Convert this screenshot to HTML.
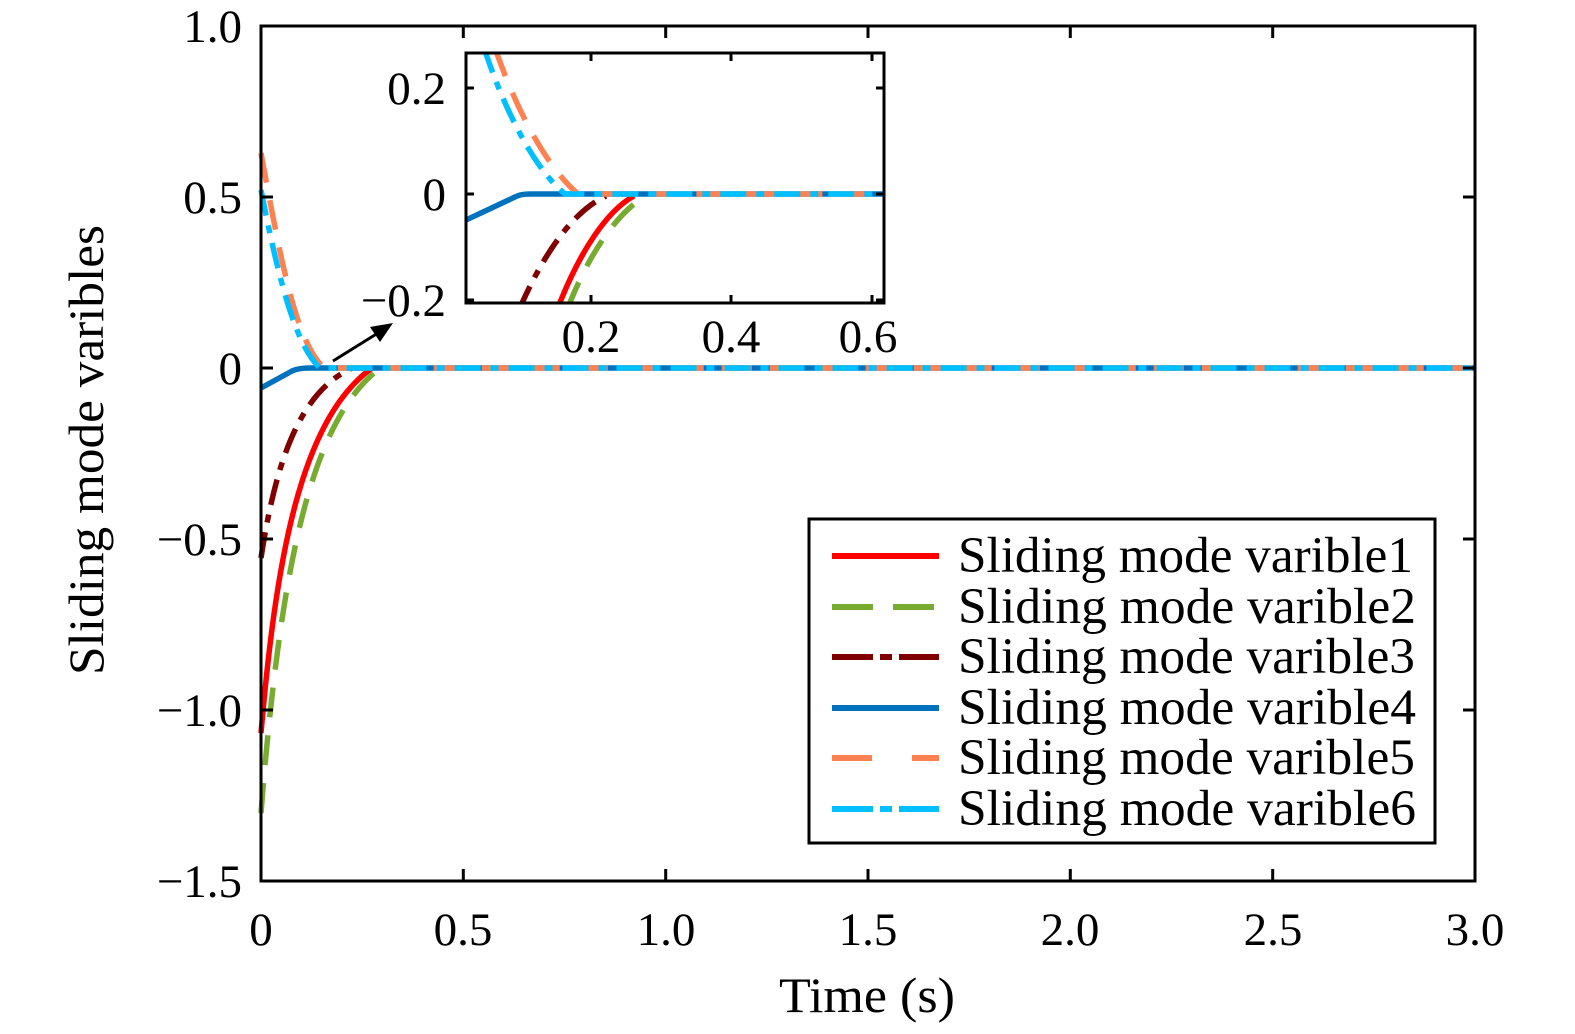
<!DOCTYPE html>
<html><head><meta charset="utf-8"><style>
html,body{margin:0;padding:0;background:#fff;}
svg{display:block;}
text{font-family:"Liberation Serif","Times New Roman",Times,serif;fill:#000;}
</style></head><body>
<svg width="1575" height="1034" viewBox="0 0 1575 1034" xmlns="http://www.w3.org/2000/svg">
<g fill="none" stroke-width="5.5">
<path d="M261,733 C 276,560 300,420 372,368" stroke="#ff0000"/>
<path d="M261,813 C 281,560 312,420 380,368" stroke="#77ac30" stroke-dasharray="30,18"/>
<path d="M261,558 C 276,460 300,392 352,368" stroke="#800000" stroke-dasharray="26,10,8,10"/>
<path d="M261,388 L292,371 Q298,368 310,368 L1475,368" stroke="#0072bd"/>
<path d="M261,153 C 281,262 296,342 324,368 L1475,368" stroke="#ff8050" stroke-dasharray="30,18"/>
<path d="M261,190 C 279,282 296,346 320,368 L1475,368" stroke="#00bfff" stroke-dasharray="26,10,8,10"/>
</g>
<rect x="261" y="26" width="1214" height="855" fill="none" stroke="#000" stroke-width="3"/>
<g stroke="#000" stroke-width="3">
<path d="M261,26h12M261,197h12M261,368h12M261,539h12M261,710h12M1475,26h-12M1475,197h-12M1475,368h-12M1475,539h-12M1475,710h-12"/>
<path d="M463.3,881v-12M665.7,881v-12M868,881v-12M1070.3,881v-12M1272.7,881v-12M463.3,26v12M665.7,26v12M868,26v12M1070.3,26v12M1272.7,26v12"/>
</g>
<g font-size="47" text-anchor="end">
<text x="242" y="42">1.0</text>
<text x="242" y="213">0.5</text>
<text x="242" y="384">0</text>
<text x="242" y="555">−0.5</text>
<text x="242" y="726">−1.0</text>
<text x="242" y="897">−1.5</text>
</g>
<g font-size="47" text-anchor="middle">
<text x="261" y="945">0</text>
<text x="463" y="945">0.5</text>
<text x="666" y="945">1.0</text>
<text x="868" y="945">1.5</text>
<text x="1070" y="945">2.0</text>
<text x="1273" y="945">2.5</text>
<text x="1475" y="945">3.0</text>
</g>
<g font-size="50" text-anchor="middle">
<text x="867" y="1012" textLength="176" lengthAdjust="spacingAndGlyphs">Time (s)</text>
<text transform="translate(103,450) rotate(-90)" textLength="450" lengthAdjust="spacingAndGlyphs">Sliding mode varibles</text>
</g>
<line x1="333" y1="361" x2="378" y2="333" stroke="#000" stroke-width="3"/>
<polygon points="393,323 370,327 380,342" fill="#000"/>
<rect x="466" y="53" width="418" height="250" fill="#fff"/>
<svg x="466" y="53" width="418" height="250" viewBox="466 53 418 250" overflow="hidden">
<g fill="none" stroke-width="5.5">
<path d="M519,310 C 545,250 575,210 606,196" stroke="#800000" stroke-dasharray="26,10,8,10"/>
<path d="M557,310 C 580,250 608,210 634,196" stroke="#ff0000"/>
<path d="M567,310 C 590,250 620,210 646,196" stroke="#77ac30" stroke-dasharray="30,18"/>
<path d="M466,220 L515,197 Q520,194 530,194 L884,194" stroke="#0072bd"/>
<path d="M495,48 C 520,120 550,170 578,194 L884,194" stroke="#ff8050" stroke-dasharray="30,18"/>
<path d="M484,48 C 508,120 538,172 565,194 L884,194" stroke="#00bfff" stroke-dasharray="26,10,8,10"/>
</g>
</svg>
<rect x="466" y="53" width="418" height="250" fill="none" stroke="#000" stroke-width="3"/>
<g stroke="#000" stroke-width="3">
<path d="M466,88h8M466,194h8M466,300h8M884,88h-8M884,194h-8M884,300h-8"/>
<path d="M591,303v-8M731,303v-8M872,303v-8M591,53v8M731,53v8M872,53v8"/>
</g>
<g font-size="47" text-anchor="end">
<text x="446" y="104">0.2</text>
<text x="446" y="210">0</text>
<text x="446" y="316">−0.2</text>
</g>
<g font-size="47" text-anchor="middle">
<text x="591" y="352">0.2</text>
<text x="731" y="352">0.4</text>
<text x="868" y="352">0.6</text>
</g>
<rect x="809" y="519" width="626" height="324" fill="#fff" stroke="#000" stroke-width="3"/>
<g stroke-width="6">
<line x1="832" y1="556" x2="939" y2="556" stroke="#ff0000"/>
<line x1="832" y1="607" x2="939" y2="607" stroke="#77ac30" stroke-dasharray="41,20"/>
<line x1="832" y1="657" x2="939" y2="657" stroke="#800000" stroke-dasharray="41,7,12,7"/>
<line x1="832" y1="708" x2="939" y2="708" stroke="#0072bd"/>
<line x1="832" y1="758" x2="939" y2="758" stroke="#ff8050" stroke-dasharray="40,40"/>
<line x1="832" y1="809" x2="939" y2="809" stroke="#00bfff" stroke-dasharray="41,7,12,7"/>
</g>
<g font-size="51">
<text x="958" y="572" textLength="455" lengthAdjust="spacingAndGlyphs">Sliding mode varible1</text>
<text x="958" y="623" textLength="458" lengthAdjust="spacingAndGlyphs">Sliding mode varible2</text>
<text x="958" y="673" textLength="457" lengthAdjust="spacingAndGlyphs">Sliding mode varible3</text>
<text x="958" y="724" textLength="458" lengthAdjust="spacingAndGlyphs">Sliding mode varible4</text>
<text x="958" y="774" textLength="457" lengthAdjust="spacingAndGlyphs">Sliding mode varible5</text>
<text x="958" y="825" textLength="458" lengthAdjust="spacingAndGlyphs">Sliding mode varible6</text>
</g>
</svg>
</body></html>
